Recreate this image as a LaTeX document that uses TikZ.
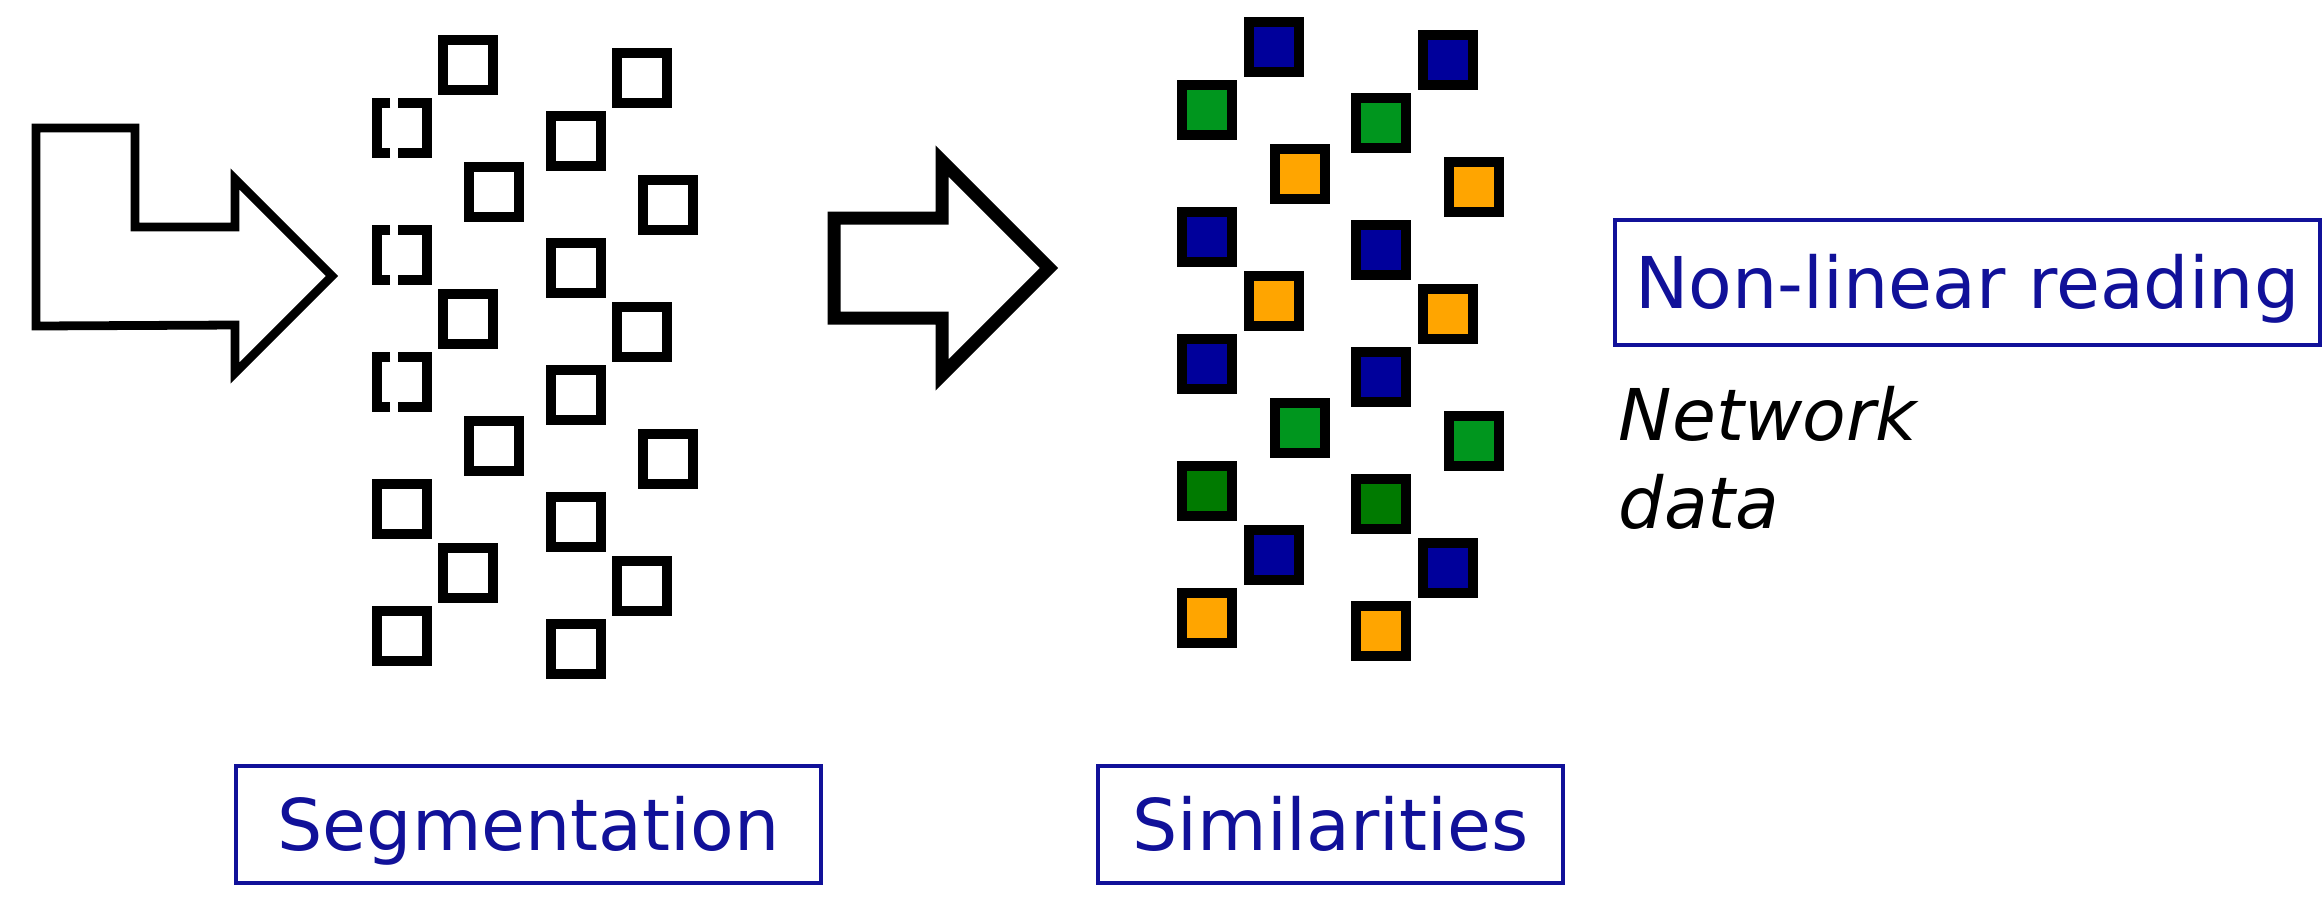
\documentclass[tikz,border=0pt]{standalone}
\usepackage{fontspec}
\setmainfont{DejaVu Sans}
\definecolor{bleu}{RGB}{0,0,155}
\definecolor{vert}{RGB}{0,150,30}
\definecolor{vertfonce}{RGB}{0,122,0}
\definecolor{jaune}{RGB}{255,165,0}
\definecolor{cadre}{RGB}{17,17,153}
\newcommand\taille{\fontsize{20.3pt}{24pt}\selectfont}
\begin{document}
\begin{tikzpicture}[x=0.01cm,y=-0.01cm,
        carre/.style={line width=2.75pt},
        boite/.style={draw=cadre,line width=1.1pt,text=cadre,font=\taille,
            inner sep=0pt,text height=14.8pt,text depth=0pt}]
    \useasboundingbox (0,0) rectangle (2323,896);
    % fleche coudee
    \draw [line width=2.5pt] (36,128) -- (135,128) -- (135,227) -- (235,227) -- (235,179)
        -- (332,276) -- (235,373) -- (235,325) -- (36,326) -- cycle;
    % fleche droite
    \draw [line width=3.7pt] (834,218) -- (942,218) -- (942,161) -- (1049,268)
        -- (942,375) -- (942,318) -- (834,318) -- cycle;
    % segments (deux colonnes identiques, pointilles seulement a gauche)
    \foreach \dx/\dy in {0/0,174/13}{
        \begin{scope}[shift={(\dx,\dy)}]
            \foreach \y in {128,255,382}{
                \ifnum\dx=0
                    \draw [carre] (390,\y-25) -- (377,\y-25) -- (377,\y+25) -- (390,\y+25);
                    \draw [carre] (398,\y-25) -- (427,\y-25) -- (427,\y+25) -- (398,\y+25);
                \else
                    \draw [carre] (377,\y-25) rectangle +(50,50);
                \fi
            }
            \foreach \y in {509,636}
                \draw [carre] (377,\y-25) rectangle +(50,50);
            \foreach \x/\y in {468/65,494/192,468/319,494/446,468/573}
                \draw [carre] (\x-25,\y-25) rectangle +(50,50);
        \end{scope}
    }
    % similarites
    \foreach \dx/\dy in {0/0,174/13}{
        \begin{scope}[shift={(\dx,\dy)}]
            \foreach \y/\c in {110/vert,237/bleu,364/bleu,491/vertfonce,618/jaune}
                \draw [carre,fill=\c] (1182,\y-25) rectangle +(50,50);
            \foreach \x/\y/\c in {1274/47/bleu,1300/174/jaune,1274/301/jaune,1300/428/vert,1274/555/bleu}
                \draw [carre,fill=\c] (\x-25,\y-25) rectangle +(50,50);
        \end{scope}
    }
    \node [boite,minimum width=5.85cm,minimum height=1.17cm] (segmentation) at (528.5,824.5) {Segmentation};
    \node [boite,minimum width=4.65cm,minimum height=1.17cm] (similarites) at (1330.5,824.5) {Similarities};
    \node [boite,minimum width=7.05cm,minimum height=1.25cm] (lecture) at (1967.5,282.5) {Non-linear reading};
    \node [anchor=base west,inner sep=0pt,font=\taille\itshape] (reseau) at (1618,440) {Network};
    \node [anchor=base west,inner sep=0pt,font=\taille\itshape] (donnees) at ([yshift=-0.88cm]reseau.base west) {data};
\end{tikzpicture}
\end{document}
